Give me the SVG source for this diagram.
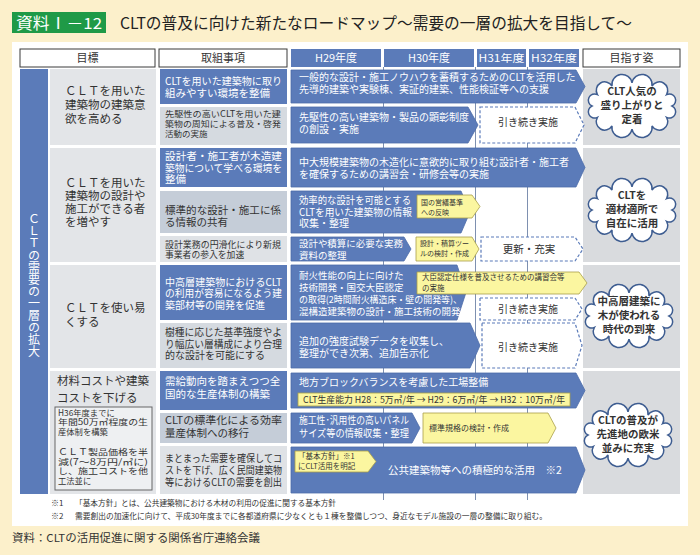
<svg xmlns="http://www.w3.org/2000/svg" width="700" height="555" viewBox="0 0 700 555">
<defs>
<style>
text{font-family:"Noto Sans CJK JP","Noto Sans",sans-serif;}
.w{fill:#fff}
.d{fill:#333}
.blue{fill:#5b7bb9}
.arw{fill:#5b7bb9;stroke:#4d6ca8;stroke-width:0.8}
.ylw{fill:#fbf6a0;stroke:#a9a04a;stroke-width:0.8}
.dsh{fill:#fff;stroke:#5b7bb9;stroke-width:1.2;stroke-dasharray:3 2}
.goal{fill:#e3e5e8}
.g1{fill:#d5dae0}
.g2{fill:#c5cdd8}
.g3{fill:#dfe2e6}
.rc{fill:#d9dbde}
.hb{fill:#fff;stroke:#3a3a3a;stroke-width:1}
.cl{fill:#fff;stroke:#3e5d91;stroke-width:1.5}
.vl{stroke:#7e90b0;stroke-width:1}
.ct{font-size:10.5px;font-weight:bold;fill:#333;text-anchor:middle}
.mid{text-anchor:middle}
</style>
<path id="cloud" d="M40,0 A1,1 0 0 1 34.6,11.5 A1,1 0 0 1 20,19.9 A1,1 0 0 1 0,23 A1,1 0 0 1 -20,19.9 A1,1 0 0 1 -34.6,11.5 A1,1 0 0 1 -40,0 A1,1 0 0 1 -34.6,-11.5 A1,1 0 0 1 -20,-19.9 A1,1 0 0 1 0,-23 A1,1 0 0 1 20,-19.9 A1,1 0 0 1 34.6,-11.5 A1,1 0 0 1 40,0 Z"/>
</defs>
<rect width="700" height="555" fill="#fcf0cb"/>
<rect x="12" y="42" width="676" height="484" fill="#fff"/>

<g id="title">
<rect x="12" y="12" width="94" height="21" fill="#1f9a47"/>
<text x="16" y="28.5" class="w" font-size="15.5" textLength="86" lengthAdjust="spacingAndGlyphs">資料Ⅰ－12</text>
<text x="120" y="29" fill="#222" font-size="15.5" textLength="512" lengthAdjust="spacingAndGlyphs">CLTの普及に向けた新たなロードマップ～需要の一層の拡大を目指して～</text>
</g>

<g id="header">
<rect class="hb" x="20" y="49" width="135" height="18"/>
<text x="87.5" y="62" class="d mid" font-size="11">目標</text>
<rect class="hb" x="159" y="49" width="128" height="18"/>
<text x="223" y="62" class="d mid" font-size="11">取組事項</text>
<rect class="blue" x="291" y="49" width="90" height="18"/>
<text x="336" y="62" class="w mid" font-size="11">H29年度</text>
<rect class="blue" x="384" y="49" width="90" height="18"/>
<text x="429" y="62" class="w mid" font-size="11">H30年度</text>
<rect class="blue" x="477" y="49" width="49" height="18"/>
<text x="501.5" y="62" class="w mid" font-size="10.5" textLength="46" lengthAdjust="spacingAndGlyphs">H31年度</text>
<rect class="blue" x="529" y="49" width="50" height="18"/>
<text x="554" y="62" class="w mid" font-size="10.5" textLength="46" lengthAdjust="spacingAndGlyphs">H32年度</text>
<rect class="hb" x="583" y="49" width="97" height="18"/>
<text x="631.5" y="62" class="d mid" font-size="11">目指す姿</text>
</g>

<g id="strip">
<rect class="blue" x="20" y="69" width="28" height="425"/>
<text x="34" y="213" class="w" font-size="12" style="writing-mode:vertical-rl;text-orientation:upright">ＣＬＴの需要の一層の拡大</text>
</g>

<g id="grid">
<line class="vl" x1="383.5" y1="67" x2="383.5" y2="500"/>
<line class="vl" x1="475.5" y1="67" x2="475.5" y2="500"/>
<line class="vl" x1="527.5" y1="67" x2="527.5" y2="500"/>
</g>

<!-- Row 1 -->
<g id="goal1">
<rect class="goal" x="50" y="69" width="106" height="76"/>
<text class="d" font-size="11.5"><tspan x="65" y="95">ＣＬＴを用いた</tspan><tspan x="65" y="109">建築物の建築意</tspan><tspan x="65" y="123">欲を高める</tspan></text>
</g>
<g id="item1a">
<rect class="blue" x="160" y="69" width="127" height="35"/>
<text class="w" font-size="10.5"><tspan x="165" y="84.5" textLength="117" lengthAdjust="spacingAndGlyphs">CLTを用いた建築物に取り</tspan><tspan x="165" y="96.5">組みやすい環境を整備</tspan></text>
</g>
<g id="item1b">
<rect class="g1" x="160" y="107" width="127" height="38"/>
<text class="d" font-size="8.5"><tspan x="165" y="116.5" textLength="116" lengthAdjust="spacingAndGlyphs">先駆性の高いCLTを用いた建</tspan><tspan x="165" y="126.5" textLength="116" lengthAdjust="spacingAndGlyphs">築物の周知による普及・啓発</tspan><tspan x="165" y="136.5">活動の実施</tspan></text>
</g>
<g id="goal-view1">
<rect class="rc" x="583" y="69" width="97" height="76"/>
<use href="#cloud" class="cl" transform="translate(632,106)"/>
<text class="ct"><tspan x="632" y="95">CLT人気の</tspan><tspan x="632" y="109">盛り上がりと</tspan><tspan x="632" y="123">定着</tspan></text>
</g>

<!-- Row 2 -->
<g id="goal2">
<rect class="goal" x="50" y="148" width="106" height="114"/>
<text class="d" font-size="11.5"><tspan x="65" y="187">ＣＬＴを用いた</tspan><tspan x="65" y="200">建築物の設計や</tspan><tspan x="65" y="213">施工ができる者</tspan><tspan x="65" y="226">を増やす</tspan></text>
</g>
<g id="item2a">
<rect class="blue" x="160" y="148" width="127" height="39"/>
<text class="w" font-size="10.5"><tspan x="165" y="160" textLength="117" lengthAdjust="spacingAndGlyphs">設計者・施工者が木造建</tspan><tspan x="165" y="171.5" textLength="117" lengthAdjust="spacingAndGlyphs">築物について学べる環境を</tspan><tspan x="165" y="183">整備</tspan></text>
</g>
<g id="item2b">
<rect class="g2" x="160" y="191" width="127" height="42"/>
<text class="d" font-size="10.5"><tspan x="165" y="214" textLength="116" lengthAdjust="spacingAndGlyphs">標準的な設計・施工に係</tspan><tspan x="165" y="226">る情報の共有</tspan></text>
</g>
<g id="item2c">
<rect class="g3" x="160" y="236" width="127" height="26"/>
<text class="d" font-size="8.8"><tspan x="165" y="247.5" textLength="116" lengthAdjust="spacingAndGlyphs">設計業務の円滑化により新規</tspan><tspan x="165" y="258">事業者の参入を加速</tspan></text>
</g>
<g id="goal-view2">
<rect class="rc" x="583" y="148" width="97" height="114"/>
<use href="#cloud" class="cl" transform="translate(632,210)"/>
<text class="ct"><tspan x="632" y="199">CLTを</tspan><tspan x="632" y="213">適材適所で</tspan><tspan x="632" y="227">自在に活用</tspan></text>
</g>

<!-- Row 3 -->
<g id="goal3">
<rect class="goal" x="50" y="265" width="106" height="103"/>
<text class="d" font-size="11.5"><tspan x="65" y="312">ＣＬＴを使い易</tspan><tspan x="65" y="326">くする</tspan></text>
</g>
<g id="item3a">
<rect class="blue" x="160" y="265" width="127" height="55"/>
<text class="w" font-size="10"><tspan x="165" y="285.5" textLength="117" lengthAdjust="spacingAndGlyphs">中高層建築物におけるCLT</tspan><tspan x="165" y="297" textLength="117" lengthAdjust="spacingAndGlyphs">の利用が容易になるよう建</tspan><tspan x="165" y="308.5">築部材等の開発を促進</tspan></text>
</g>
<g id="item3b">
<rect class="g1" x="160" y="323" width="127" height="45"/>
<text class="d" font-size="10"><tspan x="165" y="336" textLength="117" lengthAdjust="spacingAndGlyphs">樹種に応じた基準強度やよ</tspan><tspan x="165" y="347.5" textLength="117" lengthAdjust="spacingAndGlyphs">り幅広い層構成により合理</tspan><tspan x="165" y="359">的な設計を可能にする</tspan></text>
</g>
<g id="goal-view3">
<rect class="rc" x="583" y="265" width="97" height="103"/>
<use href="#cloud" class="cl" transform="translate(629,316)"/>
<text class="ct"><tspan x="629" y="305">中高層建築に</tspan><tspan x="629" y="319">木が使われる</tspan><tspan x="629" y="333">時代の到来</tspan></text>
</g>

<!-- Row 4 -->
<g id="goal4">
<rect class="goal" x="50" y="371" width="106" height="123"/>
<text class="d" font-size="11.5"><tspan x="57" y="384.5">材料コストや建築</tspan><tspan x="57" y="401.5">コストを下げる</tspan></text>
<rect x="55" y="407" width="97" height="83" fill="#eef0f2" stroke="#666" stroke-width="1"/>
<text class="d" font-size="8.3"><tspan x="58" y="415.5">H36年度までに</tspan><tspan x="58" y="425" textLength="90" lengthAdjust="spacingAndGlyphs">年間50万㎥程度の生</tspan><tspan x="58" y="434.5">産体制を構築</tspan><tspan x="58" y="455" textLength="90" lengthAdjust="spacingAndGlyphs">ＣＬＴ製品価格を半</tspan><tspan x="58" y="464.5" textLength="90" lengthAdjust="spacingAndGlyphs">減(7～8万円/㎥に)</tspan><tspan x="58" y="474" textLength="90" lengthAdjust="spacingAndGlyphs">し、施工コストを他</tspan><tspan x="58" y="483.5">工法並に</tspan></text>
</g>
<g id="item4a">
<rect class="blue" x="160" y="371" width="127" height="39"/>
<text class="w" font-size="10.5"><tspan x="165" y="385">需給動向を踏まえつつ全</tspan><tspan x="165" y="397.5">国的な生産体制の構築</tspan></text>
</g>
<g id="item4b">
<rect class="g2" x="160" y="413" width="127" height="30"/>
<text class="d" font-size="10.5"><tspan x="165" y="424" textLength="117" lengthAdjust="spacingAndGlyphs">CLTの標準化による効率</tspan><tspan x="165" y="437">量産体制への移行</tspan></text>
</g>
<g id="item4c">
<rect class="g3" x="160" y="446" width="127" height="48"/>
<text class="d" font-size="10"><tspan x="165" y="462" textLength="117" lengthAdjust="spacingAndGlyphs">まとまった需要を確保してコ</tspan><tspan x="165" y="474" textLength="117" lengthAdjust="spacingAndGlyphs">ストを下げ、広く民間建築物</tspan><tspan x="165" y="486" textLength="117" lengthAdjust="spacingAndGlyphs">等におけるCLTの需要を創出</tspan></text>
</g>
<g id="goal-view4">
<rect class="rc" x="583" y="371" width="97" height="123"/>
<use href="#cloud" class="cl" transform="translate(628,435)"/>
<text class="ct"><tspan x="628" y="424">CLTの普及が</tspan><tspan x="628" y="438">先進地の欧米</tspan><tspan x="628" y="452">並みに充実</tspan></text>
</g>

<!-- Roadmap bars -->
<g id="connectors">
<g id="bar1a">
<path class="arw" d="M291,70 H576 L585,86.5 L576,103 H291 Z"/>
<text class="w" font-size="10"><tspan x="299" y="81">一般的な設計・施工ノウハウを蓄積するためのCLTを活用した</tspan><tspan x="299" y="93">先導的建築や実験棟、実証的建築、性能検証等への支援</tspan></text>
</g>
<g id="bar1b">
<path class="arw" d="M291,107 H468 L478,125 L468,143 H291 Z"/>
<text class="w" font-size="10"><tspan x="299" y="121">先駆性の高い建築物・製品の顕彰制度</tspan><tspan x="299" y="132.5">の創設・実施</tspan></text>
<path class="dsh" d="M480,107 H575 L584,125 L575,143 H480 Z"/>
<text x="528" y="126" class="d mid" font-size="10">引き続き実施</text>
</g>
<g id="bar2a">
<path class="arw" d="M291,148 H576 L585,167.5 L576,187 H291 Z"/>
<text class="w" font-size="10"><tspan x="299" y="165.5">中大規模建築物の木造化に意欲的に取り組む設計者・施工者</tspan><tspan x="299" y="177.5">を確保するための講習会・研修会等の実施</tspan></text>
</g>
<g id="bar2b">
<path class="arw" d="M291,191 H461 L470,212 L461,233 H291 Z"/>
<text class="w" font-size="10"><tspan x="299" y="204" textLength="112" lengthAdjust="spacingAndGlyphs">効率的な設計を可能とする</tspan><tspan x="299" y="215.5" textLength="113" lengthAdjust="spacingAndGlyphs">CLTを用いた建築物の情報</tspan><tspan x="299" y="227">収集・整理</tspan></text>
<path class="ylw" d="M417,195 H472 L480,206.5 L472,218 H417 Z"/>
<text class="d" font-size="7"><tspan x="421" y="205">国の営繕基準</tspan><tspan x="421" y="214.5">への反映</tspan></text>
</g>
<g id="bar2c">
<path class="arw" d="M291,237 H404 L411,249 L404,261 H291 Z"/>
<text class="w" font-size="9.5"><tspan x="299" y="247" textLength="104" lengthAdjust="spacingAndGlyphs">設計や積算に必要な実務</tspan><tspan x="299" y="258.5">資料の整理</tspan></text>
<path class="ylw" d="M416,237 H472 L479,249 L472,261 H416 Z"/>
<text class="d" font-size="7"><tspan x="420" y="245.5">設計・積算ツー</tspan><tspan x="420" y="256">ルの検討・作成</tspan></text>
<path class="dsh" d="M481,237 H575 L583,249 L575,261 H481 Z"/>
<text x="529" y="253" class="d mid" font-size="10.5">更新・充実</text>
</g>
<g id="bar3a">
<path class="arw" d="M291,265 H457 L466,292.5 L457,320 H291 Z"/>
<text class="w" font-size="9.5"><tspan x="299" y="279">耐火性能の向上に向けた</tspan><tspan x="299" y="290.5">技術開発・国交大臣認定</tspan><tspan x="299" y="303" textLength="163" lengthAdjust="spacingAndGlyphs">の取得(2時間耐火構造床・壁の開発等)、</tspan><tspan x="299" y="315">混構造建築物の設計・施工技術の開発</tspan></text>
<path class="ylw" d="M417,272 H579 L587,283 L579,294 H417 Z"/>
<text class="d" font-size="7.5"><tspan x="422" y="280">大臣認定仕様を普及させるための講習会等</tspan><tspan x="422" y="290.5">の実施</tspan></text>
<path class="dsh" d="M480,298 H575 L582,309 L575,320 H480 Z"/>
<text x="528" y="313" class="d mid" font-size="10">引き続き実施</text>
</g>
<g id="bar3b">
<path class="arw" d="M291,323 H470 L480,345.5 L470,368 H291 Z"/>
<text class="w" font-size="10"><tspan x="299" y="345">追加の強度試験データを収集し、</tspan><tspan x="299" y="357">整理ができ次第、追加告示化</tspan></text>
<path class="dsh" d="M482,323 H575 L582,345.5 L575,368 H482 Z"/>
<text x="528" y="351" class="d mid" font-size="10">引き続き実施</text>
</g>
<g id="bar4a">
<path class="arw" d="M291,373 H576 L585,390.5 L576,408 H291 Z"/>
<text x="299" y="386" class="w" font-size="10">地方ブロックバランスを考慮した工場整備</text>
<rect class="ylw" x="298" y="393" width="272" height="13"/>
<text x="303" y="403" class="d" font-size="9" textLength="262" lengthAdjust="spacingAndGlyphs">CLT生産能力 H28：5万㎥/年 → H29：6万㎥/年 → H32：10万㎥/年</text>
</g>
<g id="bar4b">
<path class="arw" d="M291,413 H412 L420,428 L412,443 H291 Z"/>
<text class="w" font-size="10"><tspan x="299" y="424" textLength="110" lengthAdjust="spacingAndGlyphs">施工性･汎用性の高いパネル</tspan><tspan x="299" y="437" textLength="110" lengthAdjust="spacingAndGlyphs">サイズ等の情報収集・整理</tspan></text>
<path class="ylw" d="M423,413 H548 L556,428 L548,443 H423 Z"/>
<text x="429" y="431" class="d" font-size="8">標準規格の検討・作成</text>
</g>
<g id="bar4c">
<path class="arw" d="M291,447 H576 L585,470 L576,493 H291 Z"/>
<path class="ylw" d="M295,451 H368 L376,461.5 L368,472 H295 Z"/>
<text class="d" font-size="7.5"><tspan x="298" y="459">「基本方針」※1</tspan><tspan x="298" y="469">にCLT活用を明記</tspan></text>
<text x="388" y="474" class="w" font-size="10.5">公共建築物等への積極的な活用　※2</text>
</g>
</g>

<g id="notes">
<text class="d" font-size="8"><tspan x="51" y="506">※1</tspan><tspan x="75" y="506" textLength="261" lengthAdjust="spacingAndGlyphs">「基本方針」とは、公共建築物における木材の利用の促進に関する基本方針</tspan></text>
<text class="d" font-size="8"><tspan x="51" y="519">※2</tspan><tspan x="75" y="519" textLength="472" lengthAdjust="spacingAndGlyphs">需要創出の加速化に向けて、平成30年度までに各都道府県に少なくとも１棟を整備しつつ、身近なモデル施設の一層の整備に取り組む。</tspan></text>
<text x="12" y="542" fill="#333" font-size="11" textLength="248" lengthAdjust="spacingAndGlyphs">資料：CLTの活用促進に関する関係省庁連絡会議</text>
</g>
</svg>
